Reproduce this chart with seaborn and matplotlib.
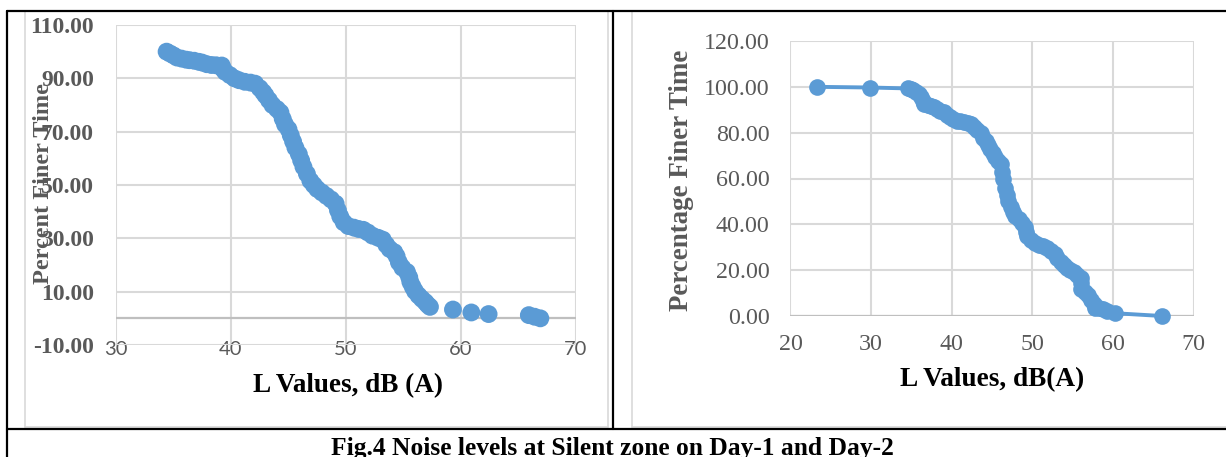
import numpy as np
import pandas as pd
import matplotlib.pyplot as plt
import seaborn as sns
from matplotlib.lines import Line2D

# Day-1 (left panel): L values vs percent finer time
day1_L = [34.4, 34.7, 35.0, 35.3, 35.7, 36.1, 36.4, 36.8, 37.2, 37.5, 37.9, 38.3, 38.7, 39.2, 39.3,
          39.5, 39.9, 40.3, 40.7, 41.2, 41.7, 42.1, 42.5, 42.8, 43.0, 43.3, 43.6, 44.0, 44.3, 44.5,
          44.7, 45.0, 45.2, 45.4, 45.6, 45.9, 46.1, 46.3, 46.6, 46.9, 47.2, 47.5, 47.9, 48.3, 48.7,
          49.1, 49.3, 49.5, 49.8, 50.2, 50.7, 51.1, 51.5, 51.9, 52.3, 52.8, 53.2, 53.5, 53.8, 54.2,
          54.4, 54.6, 54.9, 55.3, 55.5, 55.6, 55.8, 56.0, 56.3, 56.6, 56.9, 57.1, 57.3, 59.3, 60.9,
          62.4, 65.9, 66.4, 66.9]
day1_pct = [100.0, 99.3, 98.6, 97.8, 97.4, 97.0, 96.8, 96.6, 96.2, 95.9, 95.3, 95.0, 94.9, 94.8, 93.5,
            92.4, 91.2, 90.0, 89.3, 88.7, 88.4, 88.0, 86.3, 84.8, 83.6, 81.8, 80.0, 78.5, 77.2, 74.8,
            72.7, 70.9, 68.6, 66.3, 64.0, 61.6, 59.2, 56.8, 54.2, 51.6, 50.0, 48.5, 47.2, 45.9, 44.6,
            43.0, 40.5, 38.2, 36.0, 34.6, 34.0, 33.5, 33.2, 32.2, 31.0, 30.2, 29.5, 27.6, 26.0, 24.8,
            23.3, 21.0, 19.0, 17.4, 15.4, 13.6, 11.8, 10.2, 8.6, 7.3, 6.1, 5.1, 4.3, 3.3, 2.2,
            1.6, 1.2, 0.6, 0.0]

# Day-2 (right panel)
day2_L = [23.3, 29.9, 34.6, 34.9, 35.2, 35.6, 35.9, 36.2, 36.4, 36.6, 37.0, 37.4, 37.8, 38.2, 38.6,
          39.0, 39.4, 39.8, 40.2, 40.6, 41.0, 41.5, 42.0, 42.4, 42.8, 43.2, 43.6, 43.9, 44.2, 44.5,
          44.8, 45.1, 45.4, 45.8, 46.1, 46.3, 46.4, 46.6, 46.8, 47.0, 47.3, 47.6, 47.9, 48.3, 48.7,
          49.1, 49.2, 49.4, 49.8, 50.3, 50.8, 51.3, 51.8, 52.3, 52.8, 53.1, 53.5, 53.9, 54.3, 54.7,
          55.2, 55.6, 56.0, 56.1, 56.1, 56.5, 56.9, 57.3, 57.6, 57.8, 58.3, 58.8, 59.3, 60.3, 66.1]
day2_pct = [100.0, 99.7, 99.3, 99.0, 98.5, 97.8, 96.8, 95.6, 94.0, 92.6, 92.0, 91.6, 91.0, 90.2, 89.6,
            88.9, 87.8, 86.8, 86.0, 85.3, 84.9, 84.6, 84.4, 83.8, 82.4, 81.0, 79.8, 77.8, 76.4, 74.8,
            72.8, 71.0, 69.4, 67.8, 66.4, 63.0, 59.6, 56.0, 53.0, 50.2, 47.6, 45.6, 43.6, 42.2, 40.8,
            39.0, 36.8, 34.8, 33.2, 32.0, 31.2, 30.5, 29.6, 28.4, 27.0, 25.4, 23.6, 22.2, 21.1, 20.0,
            19.0, 17.9, 16.6, 14.2, 12.0, 10.4, 9.0, 7.2, 5.4, 3.6, 3.3, 3.2, 2.4, 1.2, 0.0]

left_yticks = [-10, 10, 30, 50, 70, 90, 110]
left_xticks = [30, 40, 50, 60, 70]
right_yticks = [0, 20, 40, 60, 80, 100, 120]
right_xticks = [20, 30, 40, 50, 60, 70]

df1 = pd.DataFrame({'L': day1_L, 'pct': day1_pct})
df2 = pd.DataFrame({'L': day2_L, 'pct': day2_pct})

sns.set_style('white')
plt.rcParams['font.family'] = ['Liberation Serif', 'DejaVu Serif']

W, H = 1226, 457
blue = '#5B9BD5'
grey_txt = '#595959'
grid_c = '#d9d9d9'

fig = plt.figure(figsize=(W / 100, H / 100), dpi=100)


def fx(px):
    return px / W


def fy(py):
    return 1 - py / H


# table borders and chart frames
def fline(x0, y0, x1, y1, c='black', lw=1.6):
    fig.add_artist(Line2D([fx(x0), fx(x1)], [fy(y0), fy(y1)], color=c, lw=lw,
                          transform=fig.transFigure))


fline(25, 12, 25, 427, c=grid_c, lw=1.2)
fline(25, 427, 608, 427, c=grid_c, lw=1.2)
fline(608, 12, 608, 427, c=grid_c, lw=1.2)
fline(632, 12, 632, 427, c=grid_c, lw=1.2)
fline(632, 427, 1226, 427, c=grid_c, lw=1.2)
fline(7, 11, 1226, 11)
fline(7, 11, 7, 457)
fline(613, 11, 613, 429)
fline(7, 429, 1226, 429)

# ---- left chart (Day-1)
ax1 = fig.add_axes([fx(116), fy(345), 460 / W, 320 / H])
sns.scatterplot(data=df1, x='L', y='pct', ax=ax1, color=blue, s=165, edgecolor='none',
                linewidth=0, clip_on=False, zorder=3)
ax1.set_xlim(30, 70)
ax1.set_ylim(-10, 110)
ax1.set_xticks(left_xticks)
ax1.set_yticks(left_yticks)
ax1.set_yticklabels(['%.2f' % v for v in left_yticks], fontsize=17, fontweight='bold', color=grey_txt)
ax1.set_xticklabels([str(v) for v in left_xticks], fontsize=14.5, color=grey_txt, family='Lato')
ax1.tick_params(axis='y', length=0, pad=16)
ax1.tick_params(axis='x', length=0, pad=-3)
ax1.grid(True, color=grid_c, lw=1.5)
ax1.axhline(0, color='#bfbfbf', lw=1.6, zorder=1)
ax1.set_axisbelow(True)
for s in ax1.spines.values():
    s.set_visible(False)
ax1.set_xlabel('')
ax1.set_ylabel('')

fig.text(fx(44), fy(184), 'Percent Finer Time', rotation=90, ha='center', va='center',
         fontsize=17.5, fontweight='bold', color=grey_txt)
fig.text(fx(348), fy(386), 'L Values, dB (A)', ha='center', va='center',
         fontsize=19.5, fontweight='bold', color='black')

# ---- right chart (Day-2)
ax2 = fig.add_axes([fx(790.5), fy(316), 403 / W, 275 / H])
sns.lineplot(data=df2, x='L', y='pct', ax=ax2, color=blue, lw=2.8, marker='o', markersize=12,
             markeredgewidth=0, estimator=None, sort=False, clip_on=False, zorder=3)
ax2.set_xlim(20, 70)
ax2.set_ylim(0, 120)
ax2.set_xticks(right_xticks)
ax2.set_yticks(right_yticks)
ax2.set_yticklabels(['%.2f' % v for v in right_yticks], fontsize=17.3, color=grey_txt)
ax2.set_xticklabels([str(v) for v in right_xticks], fontsize=17.3, color=grey_txt)
ax2.tick_params(axis='y', length=0, pad=15)
ax2.tick_params(axis='x', length=0, pad=13)
ax2.grid(True, color=grid_c, lw=1.5)
ax2.axhline(0, color='#bfbfbf', lw=1.6, zorder=1)
ax2.set_axisbelow(True)
for s in ax2.spines.values():
    s.set_visible(False)
ax2.set_xlabel('')
ax2.set_ylabel('')

fig.text(fx(682), fy(180), 'Percentage Finer Time', rotation=90, ha='center', va='center',
         fontsize=19.4, fontweight='bold', color=grey_txt)
fig.text(fx(992), fy(380), 'L Values, dB(A)', ha='center', va='center',
         fontsize=19.6, fontweight='bold', color='black')

# caption
fig.text(fx(612), fy(455), 'Fig.4 Noise levels at Silent zone on Day-1 and Day-2',
         ha='center', va='baseline', fontsize=18.4, fontweight='bold', color='black')

plt.savefig('out.png', dpi=100)
